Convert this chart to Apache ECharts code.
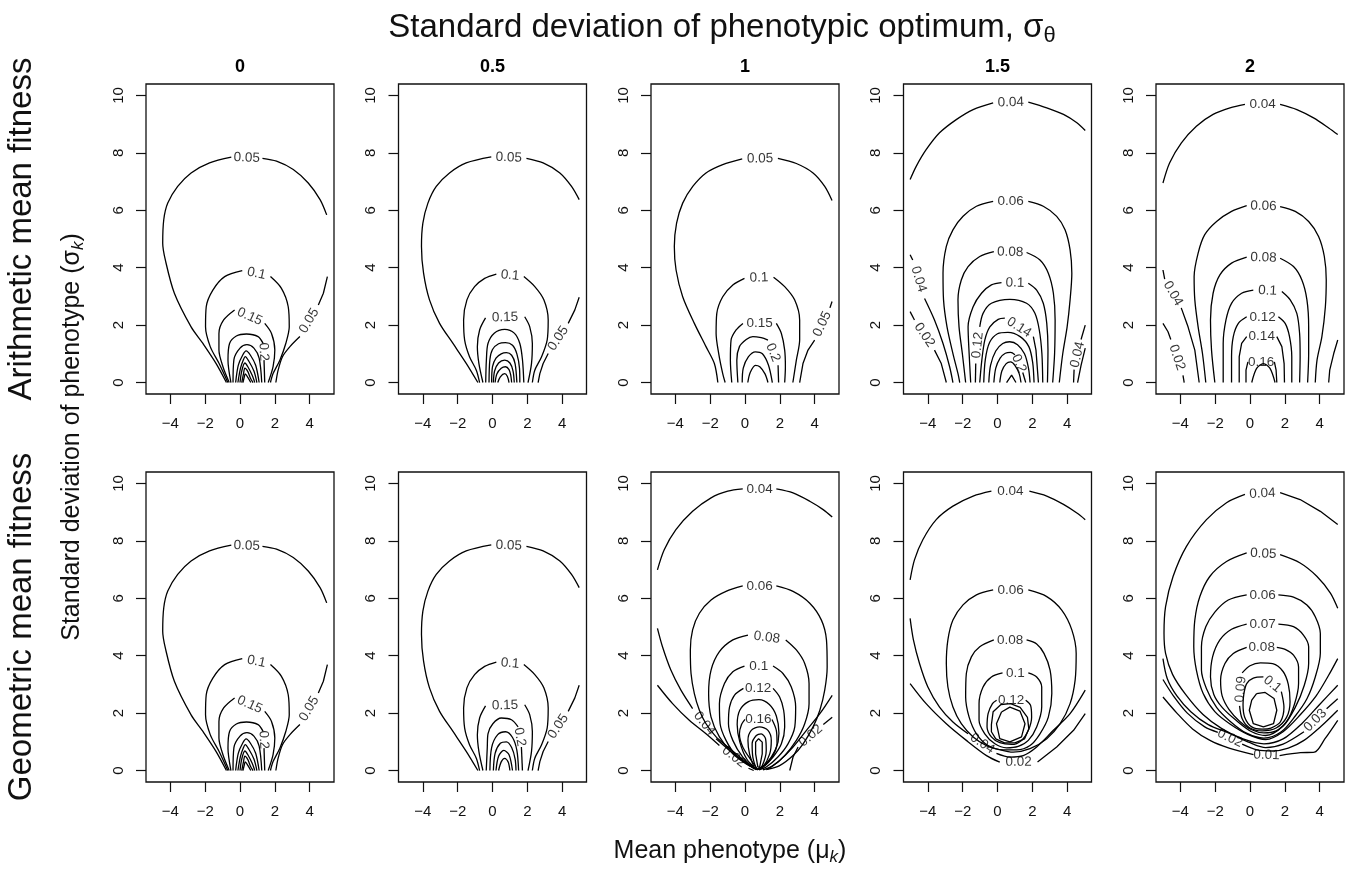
<!DOCTYPE html>
<html><head><meta charset="utf-8">
<script src="https://cdn.jsdelivr.net/npm/echarts@6/dist/echarts.min.js"></script>
<style>html,body{margin:0;padding:0;background:#fff}#c{width:1350px;height:873px}</style>
</head><body><div id="c"></div>
<script>
// ---------------- data ----------------
const colTitles = ['0', '0.5', '1', '1.5', '2'];
const rowTitles = ['Arithmetic mean fitness', 'Geometric mean fitness'];
const xTicks = [-4, -2, 0, 2, 4];
const yTicks = [0, 2, 4, 6, 8, 10];
const xRange = [-5.4, 5.4];
const yRange = [-0.4, 10.4];

// contour lines: lv = contour level, segs = pieces of the line (labels sit in the gaps)
const a0 = [
 {lv:'0.05', segs:[[[-0.78,0],[-1.37,0.66],[-2.13,1.36],[-2.81,1.94],[-3.77,3.11],[-4.29,4.27],[-4.44,4.85],[-4.38,5.67],[-4.15,6.25],[-3.58,6.83],[-2.81,7.3],[-1.75,7.65],[-0.5,7.85]],[[1.29,7.81],[2.1,7.71],[3.06,7.42],[3.92,6.95],[4.6,6.37],[4.98,5.84]]]},
 {lv:'0.05', segs:[[[5.02,3.69],[4.79,3.11],[4.5,2.7]],[[3.44,1.6],[2.87,1.25],[2.44,0.9],[2.19,0.43],[2.06,0]]]},
 {lv:'0.1', segs:[[[-0.7,0],[-1.2,0.66],[-1.71,1.25],[-1.98,1.94],[-1.94,2.64],[-1.56,3.22],[-0.88,3.69],[0.13,3.9]],[[1.75,3.69],[2.38,3.28],[2.77,2.64],[2.83,1.94],[2.63,1.36],[2.29,0.78],[1.9,0.31],[1.75,0]]]},
 {lv:'0.15', segs:[[[-0.62,0],[-0.98,0.55],[-1.21,1.13],[-1.21,1.71],[-0.94,2.18],[-0.31,2.53]],[[1.42,2.06],[1.81,1.71],[2.0,1.13],[1.9,0.55],[1.62,0]]]},
 {lv:'0.2', segs:[[[-0.52,0],[-0.69,0.78],[-0.6,1.36],[-0.21,1.62],[0.37,1.69],[1.04,1.6],[1.33,1.36]],[[1.38,0.78],[1.42,0]]]},
 {lv:'0.25', segs:[[[-0.4,0],[-0.35,0.8],[0.0,1.2],[0.4,1.32],[0.8,1.2],[1.1,0.85],[1.25,0]]]},
 {lv:'0.3', segs:[[[-0.25,0],[-0.1,0.6],[0.15,0.95],[0.35,1.1],[0.6,0.95],[0.9,0.6],[1.1,0]]]},
 {lv:'0.35', segs:[[[-0.12,0],[0.03,0.5],[0.2,0.8],[0.3,0.9],[0.5,0.75],[0.8,0.4],[0.97,0]]]},
 {lv:'0.4', segs:[[[0.0,0],[0.1,0.4],[0.28,0.68],[0.45,0.55],[0.7,0.25],[0.85,0]]]},
 {lv:'0.45', segs:[[[0.1,0],[0.2,0.3],[0.28,0.5],[0.45,0.38],[0.6,0.15],[0.75,0]]]},
 {lv:'0.5', segs:[[[0.17,0],[0.25,0.2],[0.3,0.3],[0.45,0.18],[0.62,0]]]}
];

const a05 = [
 {lv:'0.05', segs:[[[-0.84,0],[-1.5,0.66],[-2.27,1.36],[-3.04,2.06],[-3.62,2.88],[-3.96,3.81],[-4.08,4.74],[-4.0,5.55],[-3.71,6.25],[-3.23,6.83],[-2.47,7.3],[-1.51,7.65],[-0.07,7.86]],[[1.95,7.81],[2.91,7.65],[3.87,7.3],[4.54,6.83],[4.98,6.37]]]},
 {lv:'0.05', segs:[[[4.98,2.97],[4.73,2.53],[4.35,2.06]],[[3.2,1.01],[2.91,0.66],[2.72,0.31],[2.62,0]]]},
 {lv:'0.1', segs:[[[-0.74,0],[-0.93,0.43],[-1.32,0.9],[-1.6,1.48],[-1.66,2.18],[-1.47,2.88],[-1.03,3.34],[-0.45,3.63],[0.22,3.78]],[[1.8,3.69],[2.43,3.34],[2.95,2.88],[3.2,2.18],[3.14,1.48],[2.82,0.9],[2.43,0.43],[2.29,0]]]},
 {lv:'0.15', segs:[[[-0.55,0],[-0.78,0.66],[-0.87,1.25],[-0.74,1.83],[-0.4,2.25]],[[1.85,2.29],[2.14,1.94],[2.29,1.36],[2.24,0.66],[2.04,0]]]},
 {lv:'0.2', segs:[[[-0.39,0],[-0.35,0.8],[-0.26,1.36],[0.1,1.72],[0.7,1.85],[1.25,1.72],[1.57,1.36],[1.72,0.8],[1.8,0]]]},
 {lv:'0.25', segs:[[[-0.2,0],[-0.15,0.8],[0.0,1.15],[0.35,1.35],[0.75,1.39],[1.15,1.3],[1.4,1.0],[1.55,0.5],[1.57,0]]]},
 {lv:'0.3', segs:[[[-0.05,0],[0.0,0.55],[0.2,0.85],[0.5,1.0],[0.8,1.04],[1.1,0.95],[1.3,0.65],[1.4,0]]]},
 {lv:'0.35', segs:[[[0.05,0],[0.12,0.4],[0.35,0.68],[0.7,0.78],[1.0,0.68],[1.18,0.4],[1.25,0]]]},
 {lv:'0.4', segs:[[[0.15,0],[0.25,0.3],[0.5,0.5],[0.75,0.55],[0.95,0.45],[1.05,0.25],[1.1,0]]]},
 {lv:'0.45', segs:[[[0.3,0],[0.45,0.2],[0.7,0.31],[0.85,0.22],[0.95,0]]]}
];

const a1 = [
 {lv:'0.05', segs:[[[-1.56,0],[-1.76,0.66],[-2.24,1.25],[-2.91,2.06],[-3.58,2.99],[-3.96,3.92],[-4.06,4.74],[-3.93,5.55],[-3.58,6.25],[-3.0,6.83],[-2.24,7.3],[-1.28,7.59],[-0.16,7.79]],[[1.89,7.81],[2.95,7.63],[3.91,7.3],[4.58,6.83],[5.0,6.34]]]},
 {lv:'0.05', segs:[[[5.0,2.82],[4.88,2.6]],[[4.0,1.48],[3.62,1.13],[3.33,0.66],[3.14,0]]]},
 {lv:'0.1', segs:[[[-1.14,0],[-1.28,0.31],[-1.51,1.01],[-1.66,1.71],[-1.62,2.41],[-1.28,2.99],[-0.7,3.4],[-0.03,3.63]],[[1.64,3.67],[2.28,3.34],[2.85,2.88],[3.14,2.18],[3.14,1.48],[2.95,0.78],[2.75,0]]]},
 {lv:'0.15', segs:[[[-0.76,0],[-0.84,0.78],[-0.8,1.48],[-0.51,1.83],[-0.12,2.06]],[[1.8,2.06],[2.09,1.71],[2.28,1.13],[2.32,0.55],[2.28,0]]]},
 {lv:'0.2', segs:[[[-0.41,0],[-0.47,0.78],[-0.32,1.25],[0.07,1.5],[0.45,1.6],[0.93,1.56],[1.32,1.48]],[[1.9,0.6],[1.93,0]]]},
 {lv:'0.25', segs:[[[-0.16,0],[-0.1,0.5],[0.2,0.9],[0.6,1.07],[1.0,1.0],[1.35,0.6],[1.57,0]]]},
 {lv:'0.3', segs:[[[0.16,0],[0.3,0.35],[0.6,0.6],[0.85,0.55],[1.15,0.3],[1.32,0]]]}
];

const a15 = [
 {lv:'0.04', segs:[[[-5.02,7.07],[-4.67,7.53],[-4.1,8.11],[-3.33,8.7],[-2.37,9.16],[-1.4,9.51],[-0.25,9.74]],[[1.77,9.77],[2.83,9.57],[3.79,9.34],[4.56,9.05],[5.04,8.78]]]},
 {lv:'0.06', segs:[[[-2.17,0],[-2.27,0.31],[-2.56,1.01],[-2.9,1.94],[-3.1,2.88],[-3.13,3.81],[-2.94,4.74],[-2.56,5.32],[-1.98,5.79],[-1.21,6.14],[-0.25,6.31]],[[1.77,6.31],[2.63,6.14],[3.4,5.79],[3.88,5.32],[4.17,4.62],[4.27,3.81],[4.17,2.88],[4.0,1.94],[3.75,1.01],[3.55,0]]]},
 {lv:'0.08', segs:[[[-1.83,0],[-2.02,1.01],[-2.21,1.94],[-2.27,2.88],[-2.08,3.57],[-1.69,4.04],[-1.02,4.39],[-0.21,4.56]],[[1.67,4.53],[2.44,4.27],[2.92,3.81],[3.21,3.11],[3.31,2.18],[3.28,1.01],[3.17,0]]]},
 {lv:'0.1', segs:[[[-1.54,0],[-1.63,1.01],[-1.69,1.94],[-1.4,2.64],[-0.92,3.11],[-0.35,3.4],[0.23,3.48]],[[1.77,3.46],[2.25,3.22],[2.63,2.76],[2.83,2.06],[2.9,1.13],[2.87,0]]]},
 {lv:'0.12', segs:[[[-1.27,0],[-1.25,0.66]],[[-1.02,1.94],[-0.83,2.41],[-0.35,2.76],[0.71,2.9],[1.67,2.76],[2.15,2.41],[2.4,1.83],[2.55,1.01],[2.6,0]]]},
 {lv:'0.14', segs:[[[-1.02,0],[-0.9,0.78],[-0.73,1.48],[-0.44,1.94],[0.04,2.2],[0.42,2.24]],[[2.06,1.6],[2.21,1.13],[2.35,0]]]},
 {lv:'0.16', segs:[[[-0.79,0],[-0.7,0.8],[-0.45,1.4],[0.0,1.7],[0.6,1.75],[1.3,1.6],[1.8,1.25],[2.02,0.7],[2.1,0]]]},
 {lv:'0.18', segs:[[[-0.5,0],[-0.4,0.6],[-0.1,1.1],[0.3,1.36],[0.7,1.42],[1.15,1.32],[1.55,1.0],[1.78,0.5],[1.87,0]]]},
 {lv:'0.2', segs:[[[-0.21,0],[-0.1,0.5],[0.15,0.85],[0.45,1.02],[0.75,1.05],[1.0,0.97]],[[1.45,0.35],[1.62,0]]]},
 {lv:'0.22', segs:[[[0.13,0],[0.25,0.4],[0.5,0.66],[0.75,0.72],[1.0,0.6],[1.25,0.3],[1.35,0]]]},
 {lv:'0.24', segs:[[[0.52,0],[0.81,0.26],[1.06,0]]]},
 {lv:'0.04', segs:[[[-5.02,4.45],[-4.87,4.27]],[[-4.19,2.93],[-3.62,2.18],[-3.13,1.36],[-2.75,0.55],[-2.56,0]]]},
 {lv:'0.02', segs:[[[-5.02,2.47],[-4.77,2.18]],[[-3.62,1.13],[-3.23,0.66],[-2.94,0]]]},
 {lv:'0.04', segs:[[[5.04,2.0],[4.8,1.5]],[[4.4,0.45],[4.37,0]]]},
 {lv:'0.02', segs:[[[5.04,1.2],[4.8,0.6],[4.6,0]]]}
];

const a2 = [
 {lv:'0.04', segs:[[[-5.0,6.95],[-4.62,7.65],[-3.94,8.35],[-3.08,8.93],[-2.12,9.34],[-1.15,9.57],[-0.29,9.69]],[[1.73,9.69],[2.69,9.51],[3.65,9.22],[4.52,8.87],[5.04,8.64]]]},
 {lv:'0.06', segs:[[[-2.54,0],[-2.73,1.01],[-2.98,1.94],[-3.17,2.88],[-3.21,3.69],[-2.98,4.51],[-2.6,5.15],[-1.92,5.61],[-1.06,5.96],[-0.19,6.16]],[[1.73,6.13],[2.6,5.96],[3.37,5.61],[3.94,5.09],[4.27,4.39],[4.38,3.57],[4.33,2.64],[4.13,1.6],[3.85,0.78],[3.75,0]]]},
 {lv:'0.08', segs:[[[-2.02,0],[-2.21,1.13],[-2.27,2.18],[-2.12,3.11],[-1.73,3.75],[-1.06,4.16],[-0.19,4.37]],[[1.73,4.33],[2.5,4.04],[2.98,3.57],[3.27,2.88],[3.37,1.94],[3.37,1.01],[3.31,0]]]},
 {lv:'0.1', segs:[[[-1.54,0],[-1.54,1.36],[-1.38,2.18],[-1.06,2.76],[-0.48,3.11],[0.19,3.22]],[[1.83,3.17],[2.31,2.88],[2.69,2.41],[2.85,1.71],[2.88,0.9],[2.85,0]]]},
 {lv:'0.12', segs:[[[-1.06,0],[-1.06,0.9],[-0.96,1.6],[-0.67,2.06],[-0.19,2.29]],[[1.63,2.29],[2.02,2.06],[2.27,1.6],[2.4,0.9],[2.4,0]]]},
 {lv:'0.14', segs:[[[-0.62,0],[-0.62,0.9],[-0.48,1.36],[-0.19,1.6]],[[1.54,1.6],[1.83,1.25],[1.96,0.66],[1.98,0]]]},
 {lv:'0.16', segs:[[[-0.23,0],[-0.23,0.43],[-0.12,0.72]],[[1.4,0.72],[1.5,0.43],[1.54,0]]]},
 {lv:'0.18', segs:[[[0.1,0],[0.38,0.49],[0.77,0.66],[1.15,0.49],[1.44,0]]]},
 {lv:'0.04', segs:[[[-5.0,3.92],[-4.9,3.6]],[[-3.95,2.6],[-3.56,1.94],[-3.17,1.13],[-2.92,0]]]},
 {lv:'0.02', segs:[[[-5.0,2.06],[-4.71,1.77],[-4.55,1.5]],[[-3.85,0.25],[-3.78,0]]]},
 {lv:'0.04', segs:[[[5.04,1.48],[4.81,1.01],[4.58,0.43],[4.52,0]]]}
];

const g0 = a0; // identical surface in the figure

const g05 = [a05[0], a05[1], a05[2], a05[3],
 {lv:'0.2', segs:[[[-0.36,0],[-0.3,0.8],[-0.26,1.28],[0.02,1.63],[0.51,1.83],[1.09,1.77],[1.47,1.52]],[[1.66,0.82],[1.72,0]]]},
 {lv:'0.25', segs:[[[-0.15,0],[-0.05,0.8],[0.3,1.25],[0.75,1.35],[1.15,1.15],[1.4,0.7],[1.5,0]]]},
 {lv:'0.3', segs:[[[0.05,0],[0.15,0.6],[0.45,0.95],[0.8,1.0],[1.1,0.8],[1.3,0.4],[1.35,0]]]},
 {lv:'0.35', segs:[[[0.2,0],[0.35,0.5],[0.65,0.7],[0.95,0.55],[1.15,0]]]},
 {lv:'0.4', segs:[[[0.35,0],[0.5,0.3],[0.7,0.42],[0.9,0.3],[1.0,0]]]}
];

const g1 = [
 {lv:'0.04', segs:[[[-5.03,6.99],[-4.64,7.69],[-3.97,8.39],[-3.01,9.03],[-1.95,9.5],[-0.99,9.73],[-0.13,9.81]],[[1.8,9.81],[2.76,9.67],[3.72,9.38],[4.49,9.09],[5.01,8.83]]]},
 {lv:'0.06', segs:[[[0.65,0.03],[0.07,0.29],[-0.51,0.58],[-1.09,0.87],[-1.66,1.17],[-2.24,1.63],[-2.62,2.1],[-2.91,2.68],[-3.1,3.38],[-3.14,4.2],[-3.01,4.9],[-2.62,5.48],[-1.95,5.94],[-1.09,6.24],[-0.13,6.43]],[[1.8,6.43],[2.76,6.24],[3.72,5.83],[4.39,5.24],[4.68,4.55],[4.72,3.61],[4.58,2.8],[4.3,2.1],[3.91,1.52],[3.34,0.93],[2.76,0.52],[1.99,0.17],[1.22,0.03]]]},
 {lv:'0.04', segs:[[[-5.03,4.95],[-4.74,4.31],[-4.26,3.5],[-3.68,2.8],[-3.01,2.16]],[[-1.66,1.11],[-0.89,0.7],[-0.13,0.35],[0.55,0.05]]]},
 {lv:'0.04', segs:[[[5.01,2.62],[4.3,1.98],[3.53,1.4],[2.76,0.82],[1.99,0.35],[1.32,0.05]]]},
 {lv:'0.02', segs:[[[-5.03,2.97],[-4.16,2.33],[-3.2,1.75],[-2.24,1.28],[-1.47,0.87]],[[0.2,0.08],[0.5,0.0]]]},
 {lv:'0.02', segs:[[[5.01,1.86],[4.5,1.6]],[[3.05,0.82],[2.76,0.47],[2.57,0]]]},
 {lv:'0.08', segs:[[[0.65,0.06],[0.07,0.23],[-0.7,0.58],[-1.47,1.17],[-1.95,1.86],[-2.09,2.68],[-1.95,3.5],[-1.47,4.14],[-0.7,4.55],[0.17,4.72]],[[2.34,4.55],[2.95,4.2],[3.43,3.73],[3.68,3.03],[3.68,2.33],[3.43,1.63],[2.95,1.05],[2.28,0.52],[1.61,0.17],[1.03,0.02]]]},
 {lv:'0.1', segs:[[[0.74,0.02],[0.26,0.17],[-0.51,0.52],[-1.09,1.05],[-1.43,1.63],[-1.47,2.33],[-1.18,3.03],[-0.7,3.44],[-0.03,3.64]],[[1.61,3.64],[2.18,3.38],[2.66,2.91],[2.91,2.21],[2.86,1.52],[2.47,0.93],[1.89,0.47],[1.22,0.12],[0.8,0.02]]]},
 {lv:'0.12', segs:[[[0.6,0.05],[-0.13,0.47],[-0.7,1.05],[-0.95,1.63],[-0.89,2.21],[-0.61,2.62],[-0.09,2.86]],[[1.61,2.86],[1.99,2.56],[2.22,2.1],[2.28,1.52],[2.09,0.93],[1.61,0.47],[1.03,0.12],[0.7,0.05]]]},
 {lv:'0.14', segs:[[[0.65,0.05],[0.1,0.4],[-0.3,1.0],[-0.45,1.6],[-0.3,2.1],[0.2,2.4],[0.8,2.47],[1.4,2.3],[1.8,1.9],[1.95,1.3],[1.75,0.7],[1.2,0.2],[0.72,0.05]]]},
 {lv:'0.16', segs:[[[0.7,0.06],[0.36,0.35],[-0.13,0.82],[-0.32,1.28],[-0.2,1.6],[0.0,1.78]],[[1.55,1.78],[1.8,1.4],[1.84,0.93],[1.51,0.47],[0.99,0.12],[0.75,0.06]]]},
 {lv:'0.18', segs:[[[0.55,0.06],[0.26,0.58],[0.17,1.05],[0.36,1.4],[0.84,1.52],[1.32,1.4],[1.51,1.05],[1.42,0.58],[1.03,0.12],[0.7,0.04]]]},
 {lv:'0.2', segs:[[[0.65,0.05],[0.45,0.47],[0.41,0.93],[0.65,1.22],[0.93,1.28],[1.18,1.11],[1.22,0.7],[0.99,0.17],[0.75,0.05]]]},
 {lv:'0.22', segs:[[[0.74,0.12],[0.61,0.58],[0.61,0.99],[0.78,1.11],[0.99,0.99],[0.99,0.58],[0.84,0.12],[0.74,0.12]]]}
];

const g15 = [
 {lv:'0.04', segs:[[[-5.02,6.64],[-4.77,7.34],[-4.29,8.04],[-3.52,8.74],[-2.56,9.21],[-1.4,9.56],[-0.35,9.73]],[[1.83,9.73],[2.83,9.56],[3.79,9.27],[4.56,8.97],[5.04,8.74]]]},
 {lv:'0.04', segs:[[[-5.02,5.3],[-4.83,4.55],[-4.48,3.73],[-4.0,2.91],[-3.33,2.21],[-2.56,1.69],[-1.69,1.28]],[[-0.06,0.6],[0.71,0.47],[1.48,0.52],[2.25,0.82],[3.21,1.4],[4.17,1.98],[5.04,2.8]]]},
 {lv:'0.02', segs:[[[-5.02,3.03],[-4.1,2.33],[-2.94,1.63],[-1.79,1.05],[-0.63,0.52],[0.13,0.29]],[[2.3,0.3],[3.4,0.82],[4.37,1.4],[5.04,1.98]]]},
 {lv:'0.06', ring:true, segs:[[[1.77,6.29],[2.83,6.06],[3.69,5.59],[4.27,4.9],[4.52,4.08],[4.46,3.15],[4.17,2.33],[3.6,1.63],[2.83,1.11],[1.87,0.76],[0.9,0.64],[0.04,0.74],[-0.63,0.87],[-1.4,1.17],[-2.08,1.63],[-2.56,2.21],[-2.85,2.91],[-2.94,3.73],[-2.85,4.55],[-2.56,5.24],[-1.98,5.77],[-1.21,6.12],[-0.25,6.29]]]},
 {lv:'0.08', ring:true, segs:[[[1.67,4.55],[2.25,4.41],[2.67,4.08],[3.02,3.5],[3.12,2.68],[2.92,1.86],[2.44,1.28],[1.87,0.87],[1.1,0.72],[0.33,0.72],[-0.54,0.87],[-1.21,1.28],[-1.63,1.86],[-1.83,2.56],[-1.79,3.38],[-1.5,3.96],[-1.02,4.31],[-0.21,4.55]]]},
 {lv:'0.1', ring:true, segs:[[[1.77,3.4],[2.25,3.26],[2.54,2.91],[2.54,2.21],[2.25,1.52],[1.77,1.05],[1.19,0.84],[0.52,0.79],[-0.15,0.93],[-0.73,1.28],[-1.06,1.75],[-1.06,2.33],[-0.83,2.91],[-0.35,3.26],[0.29,3.4]]]},
 {lv:'0.12', ring:true, segs:[[[1.62,2.45],[1.9,2.27],[1.96,1.86],[1.77,1.4],[1.38,1.05],[0.81,0.91],[0.13,0.97],[-0.35,1.17],[-0.6,1.52],[-0.54,1.98],[-0.29,2.33],[-0.05,2.45]]]},
 {lv:'0.14', segs:[[[-0.35,1.6],[-0.25,2.05],[0.2,2.3],[0.75,2.33],[1.3,2.2],[1.72,1.85],[1.8,1.45],[1.55,1.1],[1.0,0.96],[0.4,0.96],[-0.1,1.1],[-0.35,1.35],[-0.35,1.6]]]},
 {lv:'0.16', segs:[[[0.23,2.04],[0.71,2.21],[1.29,2.07],[1.58,1.63],[1.38,1.17],[0.71,1.0],[0.13,1.11],[-0.06,1.63],[0.23,2.04]]]}
];

const g2 = [
 {lv:'0.04', segs:[[[5.04,2.97],[4.0,2.3],[3.0,1.65],[1.9,1.1],[0.8,0.93],[-0.4,1.1],[-1.6,1.45],[-2.7,1.95],[-3.7,2.65],[-4.45,3.35],[-4.85,4.08],[-4.94,4.78],[-4.85,5.71],[-4.42,6.76],[-3.65,7.81],[-2.5,8.74],[-1.35,9.33],[-0.29,9.62]],[[1.73,9.68],[2.88,9.44],[4.04,9.03],[5.04,8.57]]]},
 {lv:'0.05', segs:[[[5.04,5.65],[4.62,6.18],[3.85,6.76],[2.88,7.23],[1.73,7.52]],[[-0.19,7.58],[-1.35,7.28],[-2.31,6.76],[-2.88,6.06],[-3.17,5.24],[-3.23,4.31],[-3.08,3.5],[-2.69,2.68],[-2.02,2.05],[-1.15,1.62],[-0.1,1.25],[0.9,1.08],[1.9,1.35],[2.9,1.95],[3.8,2.6],[4.5,3.3],[5.04,3.9]]]},
 {lv:'0.06', ring:true, segs:[[[1.63,6.12],[2.5,6.04],[3.27,5.77],[3.75,5.36],[4.04,4.78],[4.04,4.08],[3.75,3.26],[3.27,2.5],[2.6,1.9],[1.8,1.35],[0.8,1.13],[-0.2,1.3],[-1.15,1.72],[-1.92,2.2],[-2.5,2.85],[-2.79,3.5],[-2.79,4.31],[-2.54,5.01],[-2.02,5.52],[-1.25,5.94],[-0.19,6.12]]]},
 {lv:'0.07', ring:true, segs:[[[1.63,5.1],[2.5,5.01],[3.08,4.71],[3.37,4.31],[3.37,3.73],[3.12,2.97],[2.6,2.2],[1.9,1.55],[0.9,1.22],[0.1,1.35],[-0.8,1.75],[-1.6,2.2],[-2.08,2.65],[-2.27,3.26],[-2.15,3.96],[-1.73,4.55],[-1.06,4.92],[-0.19,5.1]]]},
 {lv:'0.08', ring:true, segs:[[[1.54,4.29],[2.02,4.22],[2.5,4.02],[2.79,3.61],[2.79,3.03],[2.55,2.3],[2.1,1.7],[1.5,1.38],[0.8,1.31],[0.1,1.42],[-0.6,1.72],[-1.2,2.12],[-1.6,2.6],[-1.69,3.15],[-1.44,3.73],[-0.96,4.08],[-0.19,4.29]]]},
 {lv:'0.09', ring:true, segs:[[[-0.6,2.25],[-0.45,1.8],[-0.05,1.5],[0.7,1.38],[1.5,1.48],[2.1,1.85],[2.3,2.4],[2.2,3.0],[1.9,3.45],[1.3,3.72],[0.6,3.75],[0.0,3.65],[-0.45,3.4]]]},
 {lv:'0.1', ring:true, segs:[[[1.8,2.75],[1.95,2.2],[1.75,1.7],[1.2,1.48],[0.7,1.44],[0.1,1.52],[-0.3,1.85],[-0.4,2.3],[-0.35,2.68],[-0.19,3.03],[0.19,3.22],[0.77,3.26]]]},
 {lv:'0.11', segs:[[[0.38,2.68],[0.87,2.72],[1.38,2.51],[1.54,2.1],[1.35,1.63],[0.77,1.52],[0.19,1.63],[-0.04,2.1],[0.1,2.45],[0.38,2.68]]]},
 {lv:'0.03', segs:[[[-5.0,3.9],[-4.75,3.2],[-4.2,2.6],[-3.4,2.05],[-2.4,1.6],[-1.2,1.3],[0.0,0.97],[0.9,0.8],[1.9,0.92],[3.1,1.35]],[[4.4,2.15],[5.04,2.5]]]},
 {lv:'0.02', segs:[[[-5.0,3.17],[-4.4,2.6],[-3.6,2.0],[-2.6,1.52],[-1.85,1.33]],[[-0.45,0.92],[0.4,0.72],[1.3,0.68],[2.2,0.78],[3.1,1.05],[4.1,1.55],[5.04,2.1]]]},
 {lv:'0.01', segs:[[[-5.0,2.56],[-4.2,2.0],[-3.3,1.45],[-2.3,1.05],[-1.2,0.78],[0.2,0.55]],[[1.7,0.52],[2.9,0.62],[3.7,0.64],[4.3,1.1],[5.04,1.75]]]}
];

// ---------------- layout / style ----------------
const FONT = "'Liberation Sans', Arial, Helvetica, sans-serif";
const COL_LEFT0 = 146, COL_STEP = 252.5, PANEL_W = 188;
const ROW_TOP = [84, 472], PANEL_H = 310;
const panels = [a0, a05, a1, a15, a2, g0, g05, g1, g15, g2];

const minusFmt = v => (v < 0 ? '\u2212' + Math.abs(v) : String(v));
const isClosed = s => s.length > 2 && s[0][0] === s[s.length - 1][0] && s[0][1] === s[s.length - 1][1];

const grids = [], xAxes = [], yAxes = [], series = [], graphics = [];
panels.forEach((contours, p) => {
  const r = Math.floor(p / 5), c = p % 5;
  const left = COL_LEFT0 + COL_STEP * c, top = ROW_TOP[r];
  grids.push({left, top, width: PANEL_W, height: PANEL_H, show: true,
    borderColor: '#111', borderWidth: 1.3, backgroundColor: 'transparent'});
  xAxes.push({gridIndex: p, type: 'value', min: xRange[0], max: xRange[1], position: 'bottom',
    axisLine: {show: false, onZero: false}, splitLine: {show: false},
    axisTick: {show: true, inside: false, length: 10, customValues: xTicks, lineStyle: {color: '#111', width: 1.2}},
    axisLabel: {show: true, customValues: xTicks, formatter: minusFmt, margin: 22,
      fontSize: 15, color: '#111', fontFamily: FONT}});
  yAxes.push({gridIndex: p, type: 'value', min: yRange[0], max: yRange[1], position: 'left',
    axisLine: {show: false, onZero: false}, splitLine: {show: false},
    axisTick: {show: true, inside: false, length: 10, customValues: yTicks, lineStyle: {color: '#111', width: 1.2}},
    axisLabel: {show: true, customValues: yTicks, rotate: 90, margin: 20,
      fontSize: 15, color: '#111', fontFamily: FONT}});
  contours.forEach(ct => ct.segs.forEach(seg => {
    series.push({type: 'line', xAxisIndex: p, yAxisIndex: p, data: seg, showSymbol: false, symbol: 'none',
      smooth: (seg.length > 4 && !isClosed(seg)) ? 0.3 : false,
      lineStyle: {color: '#000', width: 1.3}, silent: true, animation: false, z: 2});
  }));
  series.push({id: 'lab' + p, type: 'scatter', xAxisIndex: p, yAxisIndex: p, data: [], symbolSize: 1,
    itemStyle: {color: 'transparent'}, silent: true, animation: false, z: 3,
    label: {show: true, position: 'inside', formatter: '{b}', fontSize: 13.5, color: '#000',
      fontFamily: FONT, align: 'center', verticalAlign: 'middle'}});
  if (r === 0) {
    graphics.push({type: 'text', x: left + PANEL_W / 2, y: 67,
      style: {text: colTitles[c], font: 'bold 18px ' + FONT, fill: '#000', align: 'center', verticalAlign: 'middle'}});
  }
});

// outer labels
graphics.push({type: 'text', x: 722, y: 28,
  style: {text: '{a|Standard deviation of phenotypic optimum, σ}{s|θ}', align: 'center', verticalAlign: 'middle',
    rich: {a: {fontSize: 33, fontFamily: FONT, fill: '#111'}, s: {fontSize: 22, fontFamily: FONT, fill: '#111', padding: [16, 0, 0, 0]}}}});
graphics.push({type: 'text', x: 730, y: 851,
  style: {text: '{a|Mean phenotype (μ}{s|k}{a|)}', align: 'center', verticalAlign: 'middle',
    rich: {a: {fontSize: 25, fontFamily: FONT, fill: '#111'}, s: {fontSize: 17, fontStyle: 'italic', fontFamily: FONT, fill: '#111', padding: [12, 0, 0, 0]}}}});
graphics.push({type: 'text', x: 72, y: 437, rotation: Math.PI / 2,
  style: {text: '{a|Standard deviation of phenotype (σ}{s|k}{a|)}', align: 'center', verticalAlign: 'middle',
    rich: {a: {fontSize: 25, fontFamily: FONT, fill: '#111'}, s: {fontSize: 17, fontStyle: 'italic', fontFamily: FONT, fill: '#111', padding: [12, 0, 0, 0]}}}});
graphics.push({type: 'text', x: 22, y: 229, rotation: Math.PI / 2,
  style: {text: rowTitles[0], font: '33px ' + FONT, fill: '#111', align: 'center', verticalAlign: 'middle'}});
graphics.push({type: 'text', x: 22, y: 627, rotation: Math.PI / 2,
  style: {text: rowTitles[1], font: '33px ' + FONT, fill: '#111', align: 'center', verticalAlign: 'middle'}});

const chart = echarts.init(document.getElementById('c'), null, {renderer: 'canvas', width: 1350, height: 873});
chart.setOption({animation: false, backgroundColor: '#fff', grid: grids, xAxis: xAxes, yAxis: yAxes, series, graphic: graphics});

// contour labels placed in the gaps, rotated along the line (angle measured through the chart's own scales)
const labelSeries = panels.map((contours, p) => {
  const data = [];
  contours.forEach(ct => {
    const pairs = [];
    for (let i = 0; i < ct.segs.length - 1; i++) {
      const s = ct.segs[i];
      pairs.push([s[s.length - 1], ct.segs[i + 1][0]]);
    }
    if (ct.ring) {
      const last = ct.segs[ct.segs.length - 1];
      pairs.push([last[last.length - 1], ct.segs[0][0]]);
    }
    pairs.forEach(([a, b]) => {
      const pa = chart.convertToPixel({gridIndex: p}, a);
      const pb = chart.convertToPixel({gridIndex: p}, b);
      let ang = Math.atan2(pb[1] - pa[1], pb[0] - pa[0]) * 180 / Math.PI;
      if (ang > 90) ang -= 180;
      if (ang < -90) ang += 180;
      data.push({name: ct.lv, value: [(a[0] + b[0]) / 2, (a[1] + b[1]) / 2], label: {rotate: -ang}});
    });
  });
  return {id: 'lab' + p, data};
});
chart.setOption({series: labelSeries});
</script>
</body></html>
